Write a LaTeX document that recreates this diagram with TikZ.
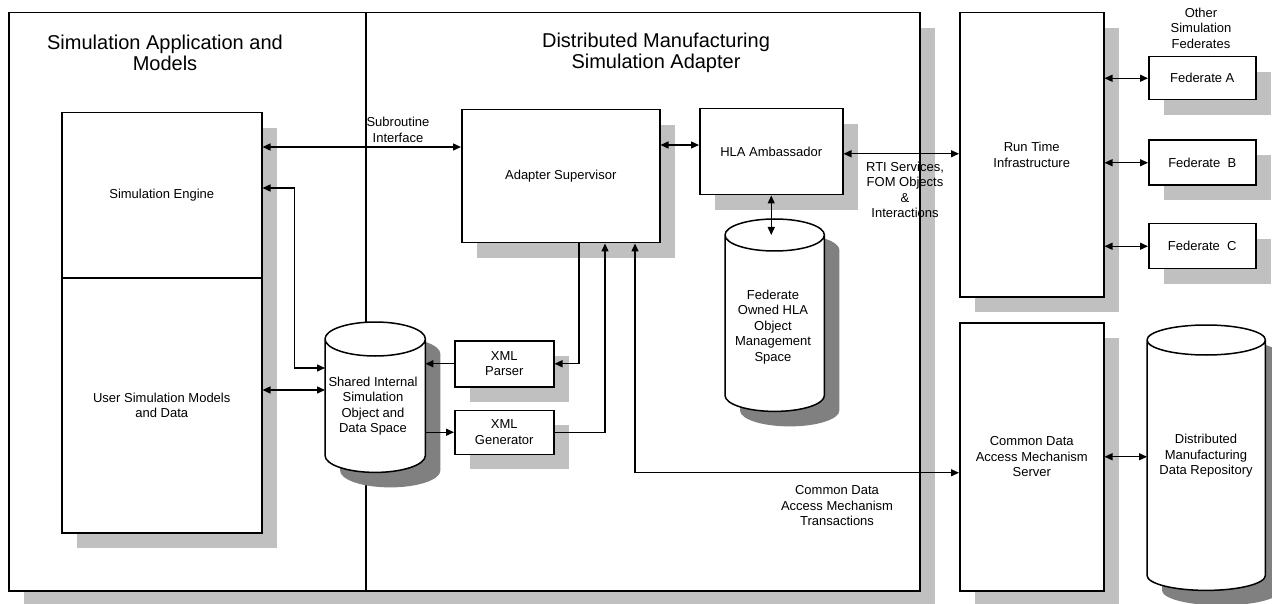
\documentclass[tikz,border=0pt]{standalone}
\usepackage{fontspec}
\setmainfont{Liberation Sans}
\usepackage{xcolor}
\usepackage{tikz}
\usetikzlibrary{arrows.meta,positioning,calc,shadows,backgrounds}
\pgfdeclarelayer{cyl}
\pgfsetlayers{background,cyl,main}
\definecolor{shadegray}{HTML}{C0C0C0}
\definecolor{cylgray}{HTML}{808080}
\newcommand{\lblsize}{\fontsize{13}{15.5}\selectfont}
\newcommand{\ttlsize}{\fontsize{20}{21.5}\selectfont}

\begin{document}
\begin{tikzpicture}[x=1pt, y=-1pt, >={Triangle[length=8pt,width=7pt]},
    block/.style={rectangle, draw, line width=1.5pt, fill=white, align=center, font=\lblsize, inner sep=2pt, anchor=north west,
      general shadow={fill=shadegray, shadow xshift=15pt, shadow yshift=-15pt}},
    cylbody/.style={rectangle, inner sep=0pt, anchor=north west},
    note/.style={align=center, font=\lblsize, inner sep=1pt},
    heading/.style={align=center, font=\ttlsize, inner sep=1pt},
    arrow/.style={line width=1.4pt}]
  \useasboundingbox (0,0) rectangle (1272,604);

  % the two halves of the federate
  \begin{scope}[on background layer]
    \node[block, minimum width=357pt, minimum height=578pt] (appframe) at (8,12) {};
    \node[block, minimum width=554pt, minimum height=578pt] (adframe) at (365,12) {};
  \end{scope}
  \node[heading] (apptitle) at (165,53) {Simulation Application and\\Models};
  \node[heading] (adtitle) at (656,53) {Distributed Manufacturing\\Simulation Adapter};

  % boxes
  \node[block, minimum width=200pt, minimum height=165pt] (simeng) at (61,112) {Simulation Engine};
  \node[block, minimum width=200pt, minimum height=255pt] (usermod) at (61,277) {User Simulation Models\\and Data};
  \node[block, minimum width=198pt, minimum height=133pt] (adsup) at (461,109) {Adapter Supervisor};
  \node[block, minimum width=143pt, minimum height=86pt] (hlaamb) at (699,108) {HLA Ambassador};
  \node[block, minimum width=99pt, minimum height=46pt] (xmlpar) at (454,340) {XML\\Parser};
  \node[block, minimum width=99pt, minimum height=44pt, below=22pt of xmlpar] (xmlgen) {XML\\Generator};
  \node[block, minimum width=144pt, minimum height=284pt] (rti) at (959,12) {Run Time\\Infrastructure};
  \node[block, minimum width=144pt, minimum height=268pt] (cdam) at (959,322) {Common Data\\Access Mechanism\\Server};
  \node[block, minimum width=107pt, minimum height=43pt] (fedA) at (1148,56) {Federate A};
  \node[block, minimum width=107pt, minimum height=45pt, below=39pt of fedA] (fedB) {Federate~ B};
  \node[block, minimum width=107pt, minimum height=45pt, below=37pt of fedB] (fedC) {Federate~ C};

  % data stores
  \node[cylbody, minimum width=100pt, minimum height=116pt] (shared) at (325,339) {};
  \node[cylbody, minimum width=99pt, minimum height=160pt] (fedspace) at (725,235) {};
  \node[cylbody, minimum width=118pt, minimum height=235pt] (repo) at (1147,340) {};
  \begin{pgfonlayer}{cyl}
    \foreach \cyl/\ry in {shared/17, fedspace/16, repo/15} {
      \fill[cylgray] let \p1=($(\cyl.north east)-(\cyl.north west)$) in
        ($(\cyl.north west)+(15,15)$) -- ($(\cyl.south west)+(15,15)$)
        arc[start angle=180, end angle=360, x radius=0.5*\x1, y radius=\ry*1pt]
        -- ($(\cyl.north east)+(15,15)$)
        arc[start angle=0, end angle=180, x radius=0.5*\x1, y radius=\ry*1pt] -- cycle;
      \draw[line width=1.5pt, fill=white] let \p1=($(\cyl.north east)-(\cyl.north west)$) in
        (\cyl.north west) -- (\cyl.south west)
        arc[start angle=180, end angle=360, x radius=0.5*\x1, y radius=\ry*1pt]
        -- (\cyl.north east)
        arc[start angle=0, end angle=180, x radius=0.5*\x1, y radius=\ry*1pt] -- cycle
        (\cyl.north west) arc[start angle=180, end angle=360, x radius=0.5*\x1, y radius=\ry*1pt];
    }
  \end{pgfonlayer}
  \node[note] (sharedtxt) at (373,406) {Shared Internal\\Simulation\\Object and\\Data Space};
  \node[note] (fedtxt) at (773,327) {Federate\\Owned HLA\\Object\\Management\\Space};
  \node[note] (repotxt) at (1206,456) {Distributed\\Manufacturing\\Data Repository};

  % connector labels
  \node[note] (subrlbl) at (398,130) {Subroutine\\Interface};
  \node[note] (rtilbl) at (905,190) {RTI Services,\\FOM Objects\\\&\\Interactions};
  \node[note] (fedslbl) at (1201,28) {Other\\Simulation\\Federates};
  \node[note] (cdamlbl) at (837,506) {Common Data\\Access Mechanism\\Transactions};

  % connectors
  \draw[arrow, <->] ($(adsup.north west)+(0,38)$) -- ($(simeng.north east)+(0,35)$);
  \draw[arrow, <->] ($(adsup.north east)+(0,36)$) -- ($(hlaamb.north west)+(0,37)$);
  \draw[arrow, <->] ($(hlaamb.east)+(0,2)$) -- ($(hlaamb.east -| rti.west)+(0,2)$);
  \draw[arrow, <->] (hlaamb.south) -- (hlaamb.south |- fedspace.north);
  \foreach \f in {fedA,fedB,fedC}
    \draw[arrow, <->] (\f.west -| rti.east) -- (\f.west);
  \draw[arrow, <->] (cdam.east) -- (cdam.east -| repo.west);
  \draw[arrow, ->] ($(adsup.south west)+(118,0)$) |- (xmlpar.east);
  \draw[arrow, ->] (xmlgen.east) -| ($(adsup.south west)+(144,0)$);
  \draw[arrow, ->] (xmlpar.west) -- (xmlpar.west -| shared.east);
  \draw[arrow, ->] (xmlgen.west -| shared.east) -- (xmlgen.west);
  \draw[arrow, <->] ($(shared.north west)+(0,29)$) -| ($(simeng.north east)+(32,76)$) -- ($(simeng.north east)+(0,76)$);
  \draw[arrow, <->] ($(usermod.north east)+(0,113)$) -- ($(shared.north west)+(0,51)$);
  \draw[arrow, <->] ($(adsup.south west)+(174,0)$) |- ($(cdam.west)+(0,16)$);
\end{tikzpicture}
\end{document}
